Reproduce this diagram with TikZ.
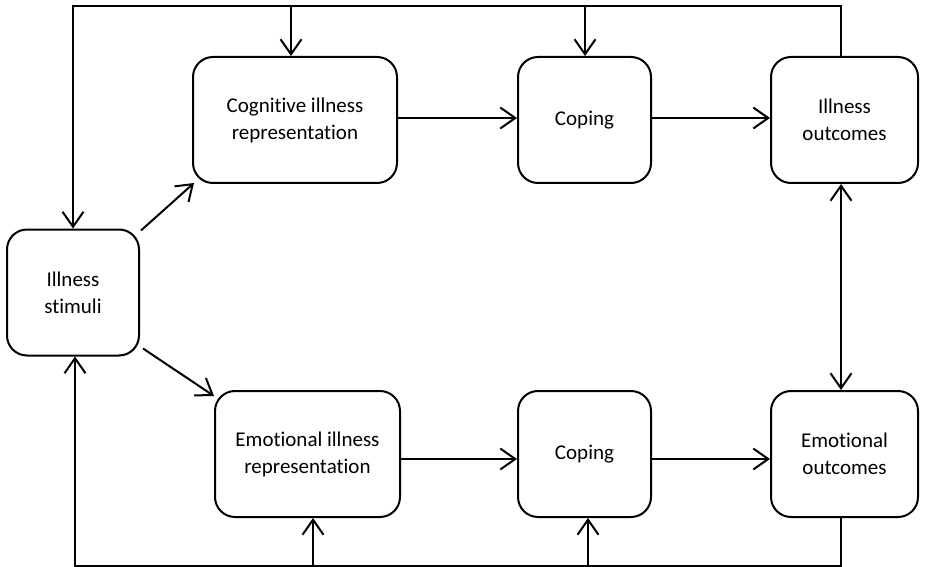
\documentclass[tikz,border=0pt]{standalone}
\usepackage{fontspec}
\setmainfont{Carlito}[Ligatures={NoCommon}]
\usetikzlibrary{arrows.meta}
\begin{document}
\begin{tikzpicture}[x=1pt,y=-1pt,
  box/.style={draw, line width=2pt, rounded corners=20pt, align=center,
    minimum height=126pt, inner sep=0pt, font=\fontsize{21}{27}\selectfont},
  conn/.style={line width=2pt, -{Straight Barb[length=15pt,width=21pt,line width=2pt]}},
  both/.style={line width=2pt, {Straight Barb[length=15pt,width=21pt,line width=2pt]}-{Straight Barb[length=15pt,width=21pt,line width=2pt]}}]
\useasboundingbox (0,0) rectangle (927,567);
\node[box, minimum width=204pt] (C) at (295,120) {Cognitive illness\\representation};
\node[box, minimum width=133pt] (K1) at (584.5,120) {Coping};
\node[box, minimum width=147pt] (IO) at (844.5,120) {Illness\\outcomes};
\node[box, minimum width=132pt] (S) at (73,292.5) {Illness\\stimuli};
\node[box, minimum width=185pt] (E) at (307.5,454) {Emotional illness\\representation};
\node[box, minimum width=133pt] (K2) at (584.5,454) {Coping};
\node[box, minimum width=147pt] (EO) at (844.5,454) {Emotional\\outcomes};
\coordinate (tl) at (73,6);
\coordinate (tr) at (841,6);
\coordinate (t1) at (291,6);
\coordinate (t2) at (585,6);
\coordinate (bl) at (75,566);
\coordinate (br) at (841,566);
\coordinate (b1) at (313,566);
\coordinate (b2) at (588,566);
% top feedback
\draw[conn] (IO.north -| tr) -- (tr) -- (tl) -- (tl |- S.north);
\draw[conn] (t1) -- (t1 |- C.north);
\draw[conn] (t2) -- (t2 |- K1.north);
% bottom feedback
\draw[conn] (EO.south -| br) -- (br) -- (bl) -- (bl |- S.south);
\draw[conn] (b1) -- (b1 |- E.south);
\draw[conn] (b2) -- (b2 |- K2.south);
% diagonals
\draw[conn] ([shift={(1pt,-2pt)}]S.north east) -- ([shift={(2pt,1pt)}]C.south west);
\draw[conn] ([shift={(3pt,8pt)}]S.south east) -- ([yshift=-6pt]E.north west);
% horizontals
\draw[conn] ([yshift=2pt]C.east) -- ([yshift=2pt]K1.west);
\draw[conn] ([yshift=2pt]K1.east) -- ([yshift=2pt]IO.west);
\draw[conn] ([yshift=-5pt]E.east) -- ([yshift=-5pt]K2.west);
\draw[conn] ([yshift=-5pt]K2.east) -- ([yshift=-5pt]EO.west);
% double arrow
\draw[both] (IO.south -| tr) -- (EO.north -| tr);
\end{tikzpicture}
\end{document}
